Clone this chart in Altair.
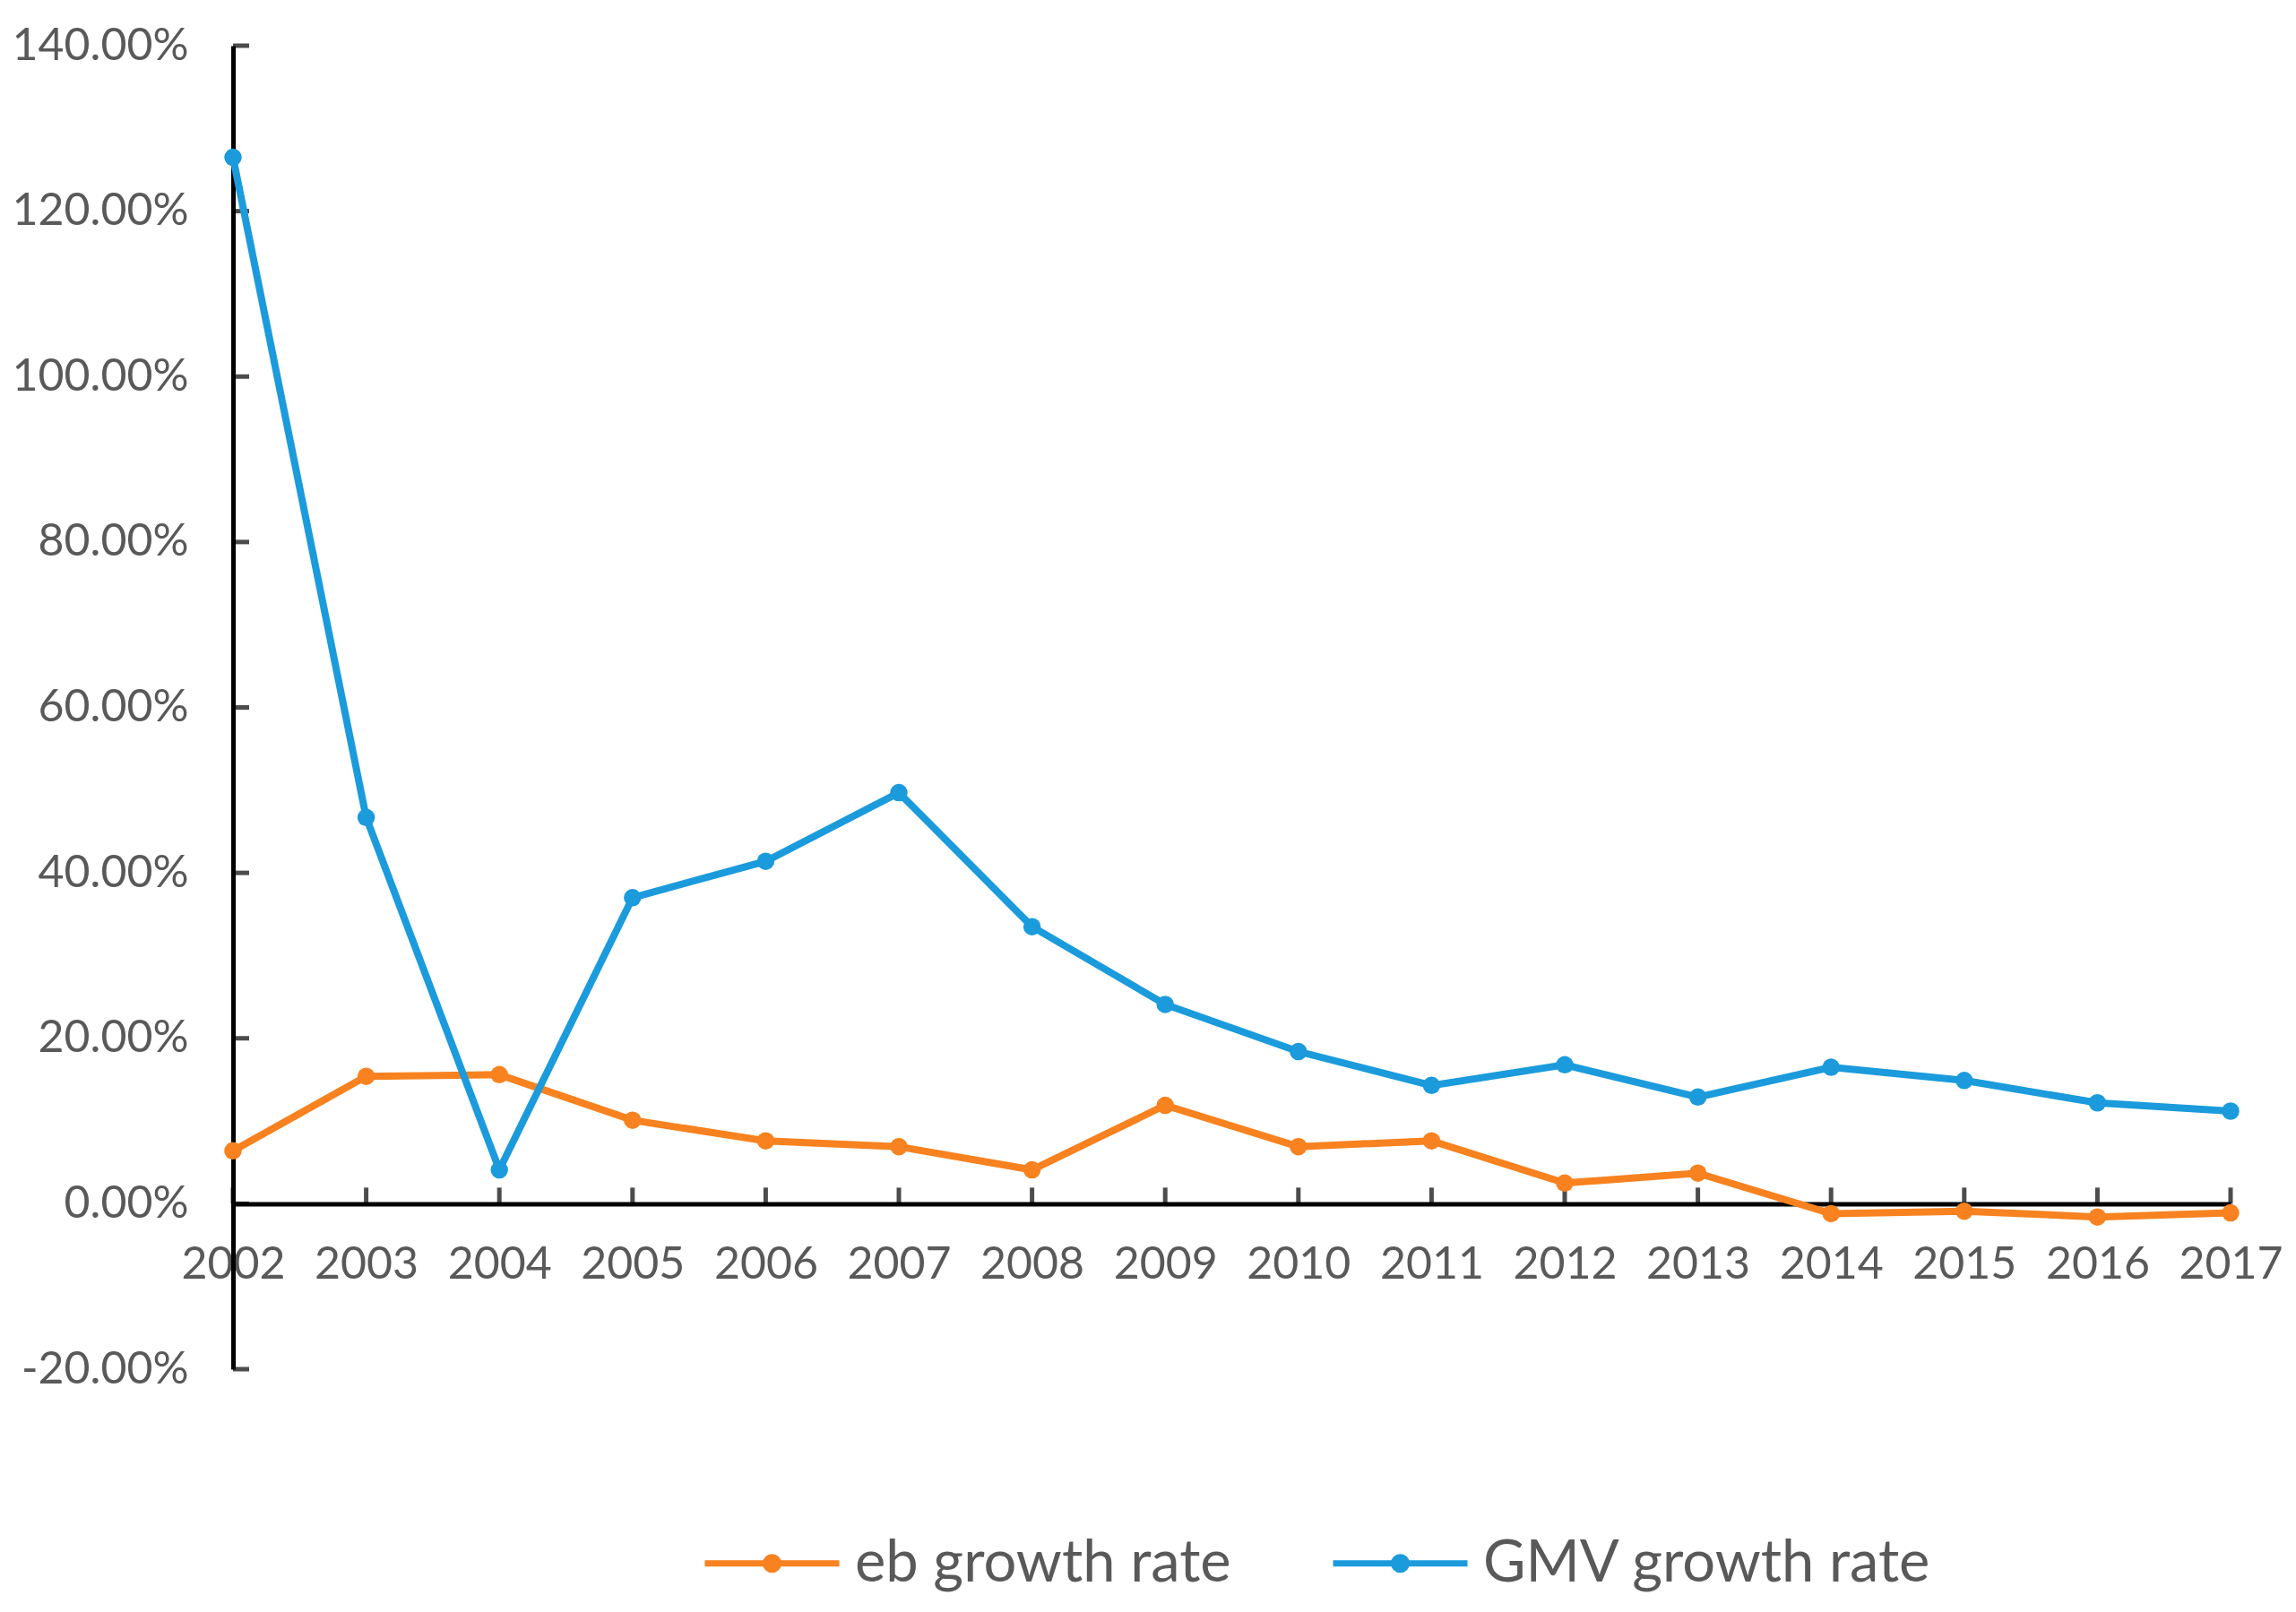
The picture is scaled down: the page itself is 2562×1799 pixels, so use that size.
import altair as alt
import pandas as pd

years = list(range(2002, 2018))
eb_growth = [0.064, 0.154, 0.156, 0.101, 0.076, 0.069, 0.041, 0.119,
             0.069, 0.076, 0.025, 0.037, -0.012, -0.009, -0.016, -0.011]
gmv_growth = [1.265, 0.467, 0.041, 0.370, 0.414, 0.497, 0.335, 0.241,
              0.184, 0.143, 0.168, 0.129, 0.165, 0.149, 0.122, 0.112]
series_names = ["eb growth rate", "GMV growth rate"]
series_colors = ["#F7821F", "#1B9BDC"]
y_ticks = [-0.2, 0.0, 0.2, 0.4, 0.6, 0.8, 1.0, 1.2, 1.4]

rows = []
for i, yr in enumerate(years):
    rows.append({"year": yr, "series": series_names[0], "value": eb_growth[i]})
    rows.append({"year": yr, "series": series_names[1], "value": gmv_growth[i]})
df = pd.DataFrame(rows)

W, H = 2229, 1477
FONT = "Lato"
GREY = "#595959"

x_scale = alt.Scale(domain=[years[0], years[-1]], nice=False, zero=False)
y_scale = alt.Scale(domain=[y_ticks[0], y_ticks[-1]], nice=False, zero=False)

# legend symbol: a long stroke with a round marker in the middle
legend_path = ("M-3,0L3,0 "
               "M-0.28,0A0.28,0.28,0,1,0,0.28,0A0.28,0.28,0,1,0,-0.28,0 "
               "M-0.1,0A0.1,0.1,0,1,0,0.1,0A0.1,0.1,0,1,0,-0.1,0")

lines = alt.Chart(df).mark_line(
    strokeWidth=8,
    point=alt.OverlayMarkDef(size=380, filled=True, opacity=1),
).encode(
    x=alt.X("year:Q", scale=x_scale,
            axis=alt.Axis(values=years, format="d", title=None, grid=False,
                          ticks=False, domainColor="black", domainWidth=5,
                          labelFont=FONT, labelFontSize=50, labelColor=GREY,
                          labelPadding=43, offset=-H / 8, labelFlush=False,
                          labelLimit=400)),
    y=alt.Y("value:Q", scale=y_scale,
            axis=alt.Axis(values=y_ticks, title=None, grid=False,
                          labelExpr="replace(format(datum.value, '.2%'), '\u2212', '-')",
                          ticks=False, domainColor="black", domainWidth=5,
                          labelFont=FONT, labelFontSize=50, labelColor=GREY,
                          labelPadding=50, labelLimit=400)),
    color=alt.Color("series:N",
                    scale=alt.Scale(domain=series_names, range=series_colors),
                    sort=series_names,
                    legend=alt.Legend(title=None, orient="none",
                                      direction="horizontal",
                                      legendX=569, legendY=1661,
                                      symbolType=legend_path,
                                      symbolSize=2500,
                                      symbolStrokeWidth=7,
                                      labelFont=FONT, labelFontSize=65,
                                      labelColor=GREY, labelOffset=60,
                                      columnPadding=99,
                                      labelLimit=800)),
    order="year:Q",
)

tick_df = pd.DataFrame({"year": years, "zero": [0.0] * len(years)})
x_ticks = alt.Chart(tick_df).mark_tick(
    orient="vertical", size=18, thickness=5, color="black", yOffset=-9
).encode(
    x=alt.X("year:Q", scale=x_scale),
    y=alt.Y("zero:Q", scale=y_scale),
)

ytick_df = pd.DataFrame({"value": y_ticks, "year": [years[0]] * len(y_ticks)})
y_tick_marks = alt.Chart(ytick_df).mark_tick(
    orient="horizontal", size=18, thickness=5, color="black", xOffset=9
).encode(
    y=alt.Y("value:Q", scale=y_scale),
    x=alt.X("year:Q", scale=x_scale),
)

chart = alt.layer(x_ticks, y_tick_marks, lines).properties(
    width=W, height=H, background="white",
    padding={"left": 5, "top": 18, "right": 0, "bottom": 0},
).configure_view(stroke=None)

chart.save("out.html", embed_options={"renderer": "svg", "actions": False})
